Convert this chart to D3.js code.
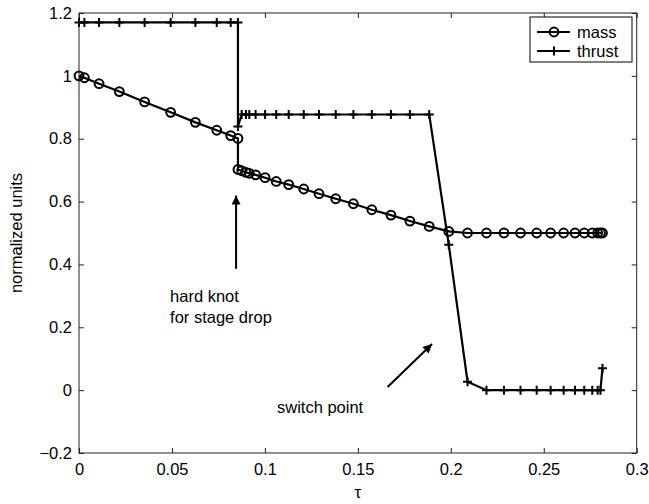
<!DOCTYPE html>
<html>
<head>
<meta charset="utf-8">
<script src="https://cdn.jsdelivr.net/npm/d3@7"></script>
<style>
  body { margin: 0; background: #fff; }
  text { font-family: "Liberation Sans", Arial, sans-serif; }
</style>
</head>
<body>
<div id="chart"></div>
<script>
// collocation nodes (the knot at ~0.0855 appears twice: before and after the stage drop)
const tau = [0, 0.0029, 0.0108, 0.0217, 0.0353, 0.0493, 0.0626, 0.0741, 0.0816, 0.0855,
    0.0855, 0.0875, 0.0898, 0.0916, 0.0950, 0.1001, 0.1061, 0.1128, 0.1209, 0.1291,
    0.1381, 0.1476, 0.1575, 0.1678, 0.1780, 0.1884, 0.1989, 0.2090, 0.2192, 0.2286,
    0.2375, 0.2462, 0.2537, 0.2607, 0.2668, 0.2718, 0.2761, 0.2790, 0.2805, 0.2816];

const mass = [1.0, 0.994, 0.975, 0.950, 0.917, 0.884, 0.852, 0.827, 0.810, 0.801,
    0.702, 0.698, 0.693, 0.690, 0.685, 0.676, 0.664, 0.654, 0.640, 0.625,
    0.609, 0.593, 0.574, 0.557, 0.538, 0.521, 0.505, 0.5, 0.5, 0.5,
    0.5, 0.5, 0.5, 0.5, 0.5, 0.5, 0.5, 0.5, 0.5, 0.5];

const thrust = [1.17, 1.17, 1.17, 1.17, 1.17, 1.17, 1.17, 1.17, 1.17, 1.17,
    0.839, 0.877, 0.877, 0.877, 0.877, 0.877, 0.877, 0.877, 0.877, 0.877,
    0.877, 0.877, 0.877, 0.877, 0.877, 0.877, 0.463, 0.027, 0, 0,
    0, 0, 0, 0, 0, 0, 0, 0, 0, 0.07];

const seriesNames = ["mass", "thrust"];
const xTicks = [0, 0.05, 0.1, 0.15, 0.2, 0.25, 0.3];
const yTicks = [-0.2, 0, 0.2, 0.4, 0.6, 0.8, 1, 1.2];

const W = 649, H = 504;
const margin = { top: 13, right: 12.3, bottom: 51, left: 79 };
const width = W - margin.left - margin.right;
const height = H - margin.top - margin.bottom;

const svg = d3.select("#chart").append("svg")
    .attr("width", W)
    .attr("height", H);

const g = svg.append("g")
    .attr("transform", `translate(${margin.left}, ${margin.top})`);

const x = d3.scaleLinear().domain([0, 0.3]).range([0, width]);
const y = d3.scaleLinear().domain([-0.2, 1.2]).range([height, 0]);
const fmt = d3.format("~g");
const axisColor = "#222";
const fontSize = 16.5;

// axes, MATLAB style: ticks inside on all four sides
const styleAxis = (sel, labels) => {
    sel.select(".domain").remove();
    sel.selectAll(".tick line").attr("stroke", axisColor);
    sel.selectAll(".tick text")
        .attr("fill", "#000")
        .style("font-size", fontSize + "px")
        .style("font-family", "'Liberation Sans', Arial, sans-serif");
    if (!labels) sel.selectAll(".tick text").remove();
};

g.append("g")
    .attr("transform", `translate(0, ${height})`)
    .call(d3.axisBottom(x).tickValues(xTicks).tickFormat(fmt).tickSizeInner(-5).tickSizeOuter(0).tickPadding(10))
    .call(s => styleAxis(s, true));
g.append("g")
    .call(d3.axisTop(x).tickValues(xTicks).tickSizeInner(-5).tickSizeOuter(0))
    .call(s => styleAxis(s, false));
g.append("g")
    .call(d3.axisLeft(y).tickValues(yTicks).tickFormat(fmt).tickSizeInner(-5).tickSizeOuter(0).tickPadding(7))
    .call(s => styleAxis(s, true));
g.append("g")
    .attr("transform", `translate(${width}, 0)`)
    .call(d3.axisRight(y).tickValues(yTicks).tickSizeInner(-5).tickSizeOuter(0))
    .call(s => styleAxis(s, false));

g.append("rect")
    .attr("width", width)
    .attr("height", height)
    .attr("fill", "none")
    .attr("stroke", axisColor)
    .attr("stroke-width", 1);

// axis titles
svg.append("text")
    .attr("x", margin.left + width / 2)
    .attr("y", 498)
    .attr("text-anchor", "middle")
    .style("font-size", "17px")
    .text("τ");

svg.append("text")
    .attr("transform", `translate(22, ${margin.top + height / 2}) rotate(-90)`)
    .attr("text-anchor", "middle")
    .style("font-size", fontSize + "px")
    .text("normalized units");

// series
const massData = tau.map((t, i) => ({ t, v: mass[i] }));
const thrustData = tau.map((t, i) => ({ t, v: thrust[i] }));

const line = d3.line().x(d => x(d.t)).y(d => y(d.v));

g.append("path")
    .datum(massData)
    .attr("fill", "none")
    .attr("stroke", "#000")
    .attr("stroke-width", 2.2)
    .attr("d", line);

g.append("path")
    .datum(thrustData)
    .attr("fill", "none")
    .attr("stroke", "#000")
    .attr("stroke-width", 2.2)
    .attr("d", line);

g.selectAll(".mass-pt")
    .data(massData)
    .enter()
    .append("circle")
    .attr("class", "mass-pt")
    .attr("cx", d => x(d.t))
    .attr("cy", d => y(d.v))
    .attr("r", 4.4)
    .attr("fill", "none")
    .attr("stroke", "#000")
    .attr("stroke-width", 2);

const plusPath = (s) => `M${-s},0H${s}M0,${-s}V${s}`;

g.selectAll(".thrust-pt")
    .data(thrustData)
    .enter()
    .append("path")
    .attr("class", "thrust-pt")
    .attr("transform", d => `translate(${x(d.t)}, ${y(d.v)})`)
    .attr("d", plusPath(4.5))
    .attr("fill", "none")
    .attr("stroke", "#000")
    .attr("stroke-width", 2);

// annotations
svg.append("defs").append("marker")
    .attr("id", "arrow")
    .attr("viewBox", "0 0 10 10")
    .attr("refX", 10)
    .attr("refY", 5)
    .attr("markerUnits", "userSpaceOnUse")
    .attr("markerWidth", 12)
    .attr("markerHeight", 9)
    .attr("orient", "auto")
    .append("path")
    .attr("d", "M0,0L10,5L0,10Z")
    .attr("fill", "#000");

const arrows = [
    { from: [0.0845, 0.386], to: [0.0845, 0.619] },
    { from: [0.1660, 0.010], to: [0.1899, 0.147] }
];
g.selectAll(".arrow")
    .data(arrows)
    .enter()
    .append("line")
    .attr("class", "arrow")
    .attr("x1", d => x(d.from[0]))
    .attr("y1", d => y(d.from[1]))
    .attr("x2", d => x(d.to[0]))
    .attr("y2", d => y(d.to[1]))
    .attr("stroke", "#000")
    .attr("stroke-width", 2)
    .attr("marker-end", "url(#arrow)");

const notes = [
    { t: 0.049, v: 0.281, text: "hard knot" },
    { t: 0.049, v: 0.214, text: "for stage drop" },
    { t: 0.1065, v: -0.072, text: "switch point" }
];
g.selectAll(".note")
    .data(notes)
    .enter()
    .append("text")
    .attr("class", "note")
    .attr("x", d => x(d.t))
    .attr("y", d => y(d.v))
    .style("font-size", fontSize + "px")
    .text(d => d.text);

// legend
const legend = svg.append("g").attr("transform", "translate(530, 17)");
legend.append("rect")
    .attr("width", 102)
    .attr("height", 45)
    .attr("fill", "#fff")
    .attr("stroke", "#000")
    .attr("stroke-width", 1);

const items = legend.selectAll(".item")
    .data(seriesNames)
    .enter()
    .append("g")
    .attr("class", "item")
    .attr("transform", (d, i) => `translate(0, ${15 + i * 19})`);

items.append("line")
    .attr("x1", 7).attr("x2", 40)
    .attr("stroke", "#000")
    .attr("stroke-width", 2.2);

items.filter(d => d === "mass").append("circle")
    .attr("cx", 24).attr("r", 4.4)
    .attr("fill", "none").attr("stroke", "#000").attr("stroke-width", 2);

items.filter(d => d === "thrust").append("path")
    .attr("transform", "translate(24, 0)")
    .attr("d", plusPath(4.5))
    .attr("stroke", "#000").attr("stroke-width", 2);

items.append("text")
    .attr("x", 47)
    .attr("dy", "0.35em")
    .style("font-size", fontSize + "px")
    .text(d => d);
</script>
</body>
</html>
